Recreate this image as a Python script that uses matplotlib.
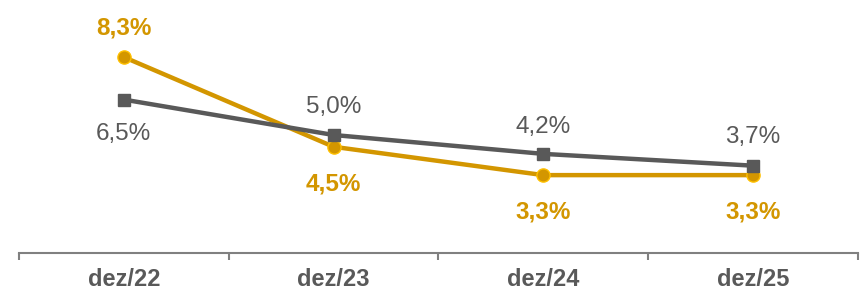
import matplotlib.pyplot as plt
import numpy as np

plt.rcParams['font.family'] = ['Liberation Sans', 'DejaVu Sans']

# Data
categories = ['dez/22', 'dez/23', 'dez/24', 'dez/25']
gold_vals = [8.3, 4.5, 3.3, 3.3]
gray_vals = [6.5, 5.0, 4.2, 3.7]

gold = '#D39600'
gray = '#595959'

fig = plt.figure(figsize=(8.64, 2.91), dpi=100)
ax = fig.add_axes([19/864, 38/291, 839/864, 236/291])

x = np.arange(len(categories))

# Gold series (circles)
ax.plot(x, gold_vals, color=gold, lw=3.2, marker='o', ms=9.5,
        markerfacecolor=gold, markeredgecolor='#FFC000', markeredgewidth=1, zorder=3)
# Gray series (squares)
ax.plot(x, gray_vals, color=gray, lw=3.2, marker='s', ms=8.5,
        markerfacecolor=gray, markeredgecolor=gray, zorder=4)

# Labels
gold_off = [21, -26.5, -26.5, -26.5]
gray_off = [-24.5, 20.5, 19.5, 20.5]
for i in range(len(x)):
    ax.annotate(f'{gold_vals[i]:.1f}%'.replace('.', ','), (x[i], gold_vals[i]),
                xytext=(0, gold_off[i]), textcoords='offset points',
                ha='center', va='center', color=gold, fontsize=17.5, fontweight='bold')
    ax.annotate(f'{gray_vals[i]:.1f}%'.replace('.', ','), (x[i], gray_vals[i]),
                xytext=(0, gray_off[i]), textcoords='offset points',
                ha='center', va='center', color=gray, fontsize=17.5)

ax.set_xlim(-0.5, len(x) - 0.5)
ax.set_ylim(0, 10)

for s in ['top', 'right', 'left']:
    ax.spines[s].set_visible(False)
ax.spines['bottom'].set_color('#808080')
ax.spines['bottom'].set_linewidth(1.5)

ax.set_yticks([])
ax.set_xticks(np.arange(-0.5, len(x), 1))
ax.set_xticklabels([])
ax.tick_params(axis='x', which='major', length=5, width=1.5, color='#808080')
ax.set_xticks(x, minor=True)
ax.set_xticklabels(categories, minor=True)
ax.tick_params(axis='x', which='minor', length=0, pad=11,
               labelsize=17, labelcolor=gray)
for lab in ax.get_xticklabels(minor=True):
    lab.set_fontweight('bold')

fig.savefig('out.png', dpi=100)
